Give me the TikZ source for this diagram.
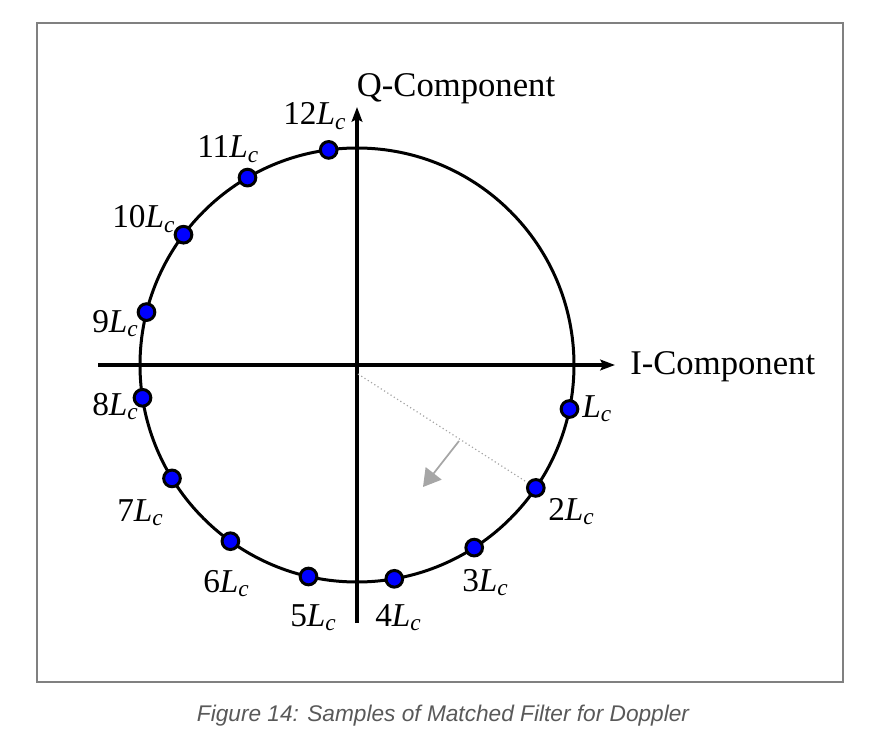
\documentclass[tikz,border=0pt]{standalone}
\usepackage{fontspec}
\usepackage{tikz}
\usetikzlibrary{arrows.meta}
\setmainfont{Liberation Serif}
\newfontfamily\capfont{Liberation Sans}
\newcommand{\Lc}{\textit{L}\textsubscript{\textit{c}}}
\definecolor{framegray}{RGB}{128,128,128}
\definecolor{capgray}{RGB}{89,89,89}
\definecolor{arrgray}{RGB}{166,166,166}
\tikzset{
  smp/.style={circle,draw=black,line width=2.25pt,fill=blue,inner sep=0pt,minimum size=12.5pt},
  lbl/.style={anchor=base west,inner sep=0pt,font=\fontsize{25}{30}\selectfont},
  axis/.style={line width=3pt,-{Stealth[length=11pt,width=8pt,inset=2pt]}}
}

\begin{document}
\begin{tikzpicture}[x=0.75pt,y=0.75pt,yscale=-1,xscale=1]
	\useasboundingbox (0,0) rectangle (886,738);
	\draw [framegray,line width=1.5pt] (37,23) rectangle (843,682);
	\coordinate (o) at (357,365);
	\draw [line width=2.25pt] (o) circle (217);
	% axes
	\coordinate (xl) at (98,365);
	\coordinate (xr) at (615,365);
	\coordinate (yb) at (357,623);
	\coordinate (yt) at (357,107);
	\draw [axis] (xl) -- (xr);
	\draw [axis] (yb) -- (yt);
	\draw (456,97) node [anchor=base,inner sep=0pt,font=\fontsize{26}{30}\selectfont] (qlab) {Q-Component};
	\draw (630,374) node [anchor=base west,inner sep=0pt,font=\fontsize{26}{30}\selectfont] (ilab) {I-Component};
	% samples
	\draw (569.5,409) node [smp] (s1) {};
	\draw (535.8,487.9) node [smp] (s2) {};
	\draw (474.2,547.6) node [smp] (s3) {};
	\draw (394.3,578.8) node [smp] (s4) {};
	\draw (308.5,576.5) node [smp] (s5) {};
	\draw (230.4,541.2) node [smp] (s6) {};
	\draw (172,478.4) node [smp] (s7) {};
	\draw (142.5,397.8) node [smp] (s8) {};
	\draw (146.5,312.1) node [smp] (s9) {};
	\draw (183.5,234.7) node [smp] (s10) {};
	\draw (247.5,177.6) node [smp] (s11) {};
	\draw (328.7,149.9) node [smp] (s12) {};
	% dotted radius and arrow
	\coordinate (r0) at (358,374);
	\coordinate (a0) at (459,441);
	\coordinate (a1) at (423,487);
	\draw [arrgray,dotted,line width=0.9pt] (r0) -- (s2);
	\draw [arrgray,line width=1.3pt,-{Triangle[length=13pt,width=15pt]}] (a0) -- (a1);
	% labels
	\draw (582,417) node [lbl] (l1) {\Lc};
	\draw (548,520) node [lbl] (l2) {2\Lc};
	\draw (462,591) node [lbl] (l3) {3\Lc};
	\draw (375,626) node [lbl] (l4) {4\Lc};
	\draw (290,626) node [lbl] (l5) {5\Lc};
	\draw (203,592) node [lbl] (l6) {6\Lc};
	\draw (117,521) node [lbl] (l7) {7\Lc};
	\draw (92,415) node [lbl] (l8) {8\Lc};
	\draw (92,332) node [lbl] (l9) {9\Lc};
	\draw (112,228) node [lbl] (l10) {10\Lc};
	\draw (197,158) node [lbl] (l11) {11\Lc};
	\draw (283,125) node [lbl] (l12) {12\Lc};
	\draw (443,721) node [anchor=base,inner sep=0pt,text=capgray,font=\capfont\itshape\fontsize{17}{20}\selectfont] (cap) {Figure 14: Samples of Matched Filter for Doppler};
\end{tikzpicture}
\end{document}
